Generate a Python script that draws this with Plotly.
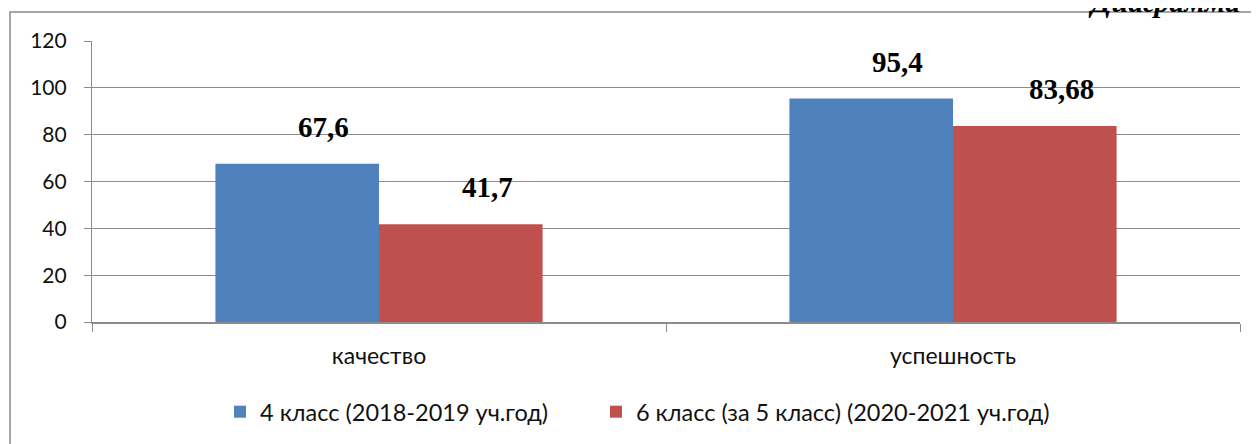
import plotly.graph_objects as go

categories = ["качество", "успешность"]
series_names = ["4 класс (2018-2019 уч.год)", "6 класс (за 5 класс) (2020-2021 уч.год)"]
values_4 = [67.6, 95.4]
values_6 = [41.7, 83.68]
label_4 = ["67,6", "95,4"]
label_6 = ["41,7", "83,68"]
y_ticks = [0, 20, 40, 60, 80, 100, 120]
title_text = "Диаграмма"

colors = ["#4F81BD", "#C0504D"]

fig = go.Figure()
fig.add_trace(go.Bar(x=categories, y=values_4, name=series_names[0], marker_color=colors[0],
                     marker_line_width=0, offsetgroup="a", legend="legend"))
fig.add_trace(go.Bar(x=categories, y=values_6, name=series_names[1], marker_color=colors[1],
                     marker_line_width=0, offsetgroup="b", legend="legend2"))

annotations = []
for i, (vals, labs) in enumerate([(values_4, label_4), (values_6, label_6)]):
    for j, (v, lab) in enumerate(zip(vals, labs)):
        annotations.append(dict(
            x=categories[j], y=v, xref="x", yref="y", text=lab, showarrow=False,
            xshift=(-82 if i == 0 else 82) + 26, yshift=37, yanchor="middle",
            font=dict(family="Liberation Serif", size=29, color="#000000", weight="bold"),
        ))
annotations.append(dict(
    x=0.866, y=1.074, xref="paper", yref="paper", text=f"<b><i>{title_text}</i></b>",
    showarrow=False, xanchor="left", yanchor="bottom",
    font=dict(family="Liberation Serif", size=30, color="#000000"),
))

legend_font = dict(family="Lato", size=23.5, color="#111111")

fig.update_layout(
    width=1251, height=436,
    margin=dict(l=84, r=19, t=33, b=122, autoexpand=False),
    paper_bgcolor="white", plot_bgcolor="white",
    barmode="group", bargap=0.43, bargroupgap=0,
    font=dict(family="Lato", size=19, color="#111111"),
    annotations=annotations,
    showlegend=True,
    legend=dict(orientation="h", x=0.1115, xanchor="left", y=-0.32, yanchor="middle",
                font=legend_font, itemwidth=30),
    legend2=dict(orientation="h", x=0.439, xanchor="left", y=-0.32, yanchor="middle",
                 font=legend_font, itemwidth=30),
    shapes=[dict(type="rect", xref="paper", yref="paper",
                 x0=-0.0714, x1=1.03, y0=-0.5, y1=1.103,
                 line=dict(color="#8a8a8a", width=1.5), fillcolor="rgba(0,0,0,0)", layer="below")],
)
fig.update_yaxes(range=[0, 120], tickvals=y_ticks, showgrid=True, gridcolor="#8c8c8c", gridwidth=1.2,
                 showline=True, linecolor="#8c8c8c", linewidth=1.2, ticks="outside", ticklen=7,
                 tickcolor="#8c8c8c", zeroline=False, ticklabelstandoff=13, automargin=False,
                 tickfont=dict(family="Lato", size=21, color="#111111"))
fig.update_xaxes(showline=True, linecolor="#8c8c8c", linewidth=1.5, ticks="outside", ticklen=8,
                 tickcolor="#8c8c8c", tickson="boundaries", showgrid=False, automargin=False,
                 ticklabelstandoff=13,
                 tickfont=dict(family="Lato", size=23, color="#111111"))

fig.write_html("out.html")
